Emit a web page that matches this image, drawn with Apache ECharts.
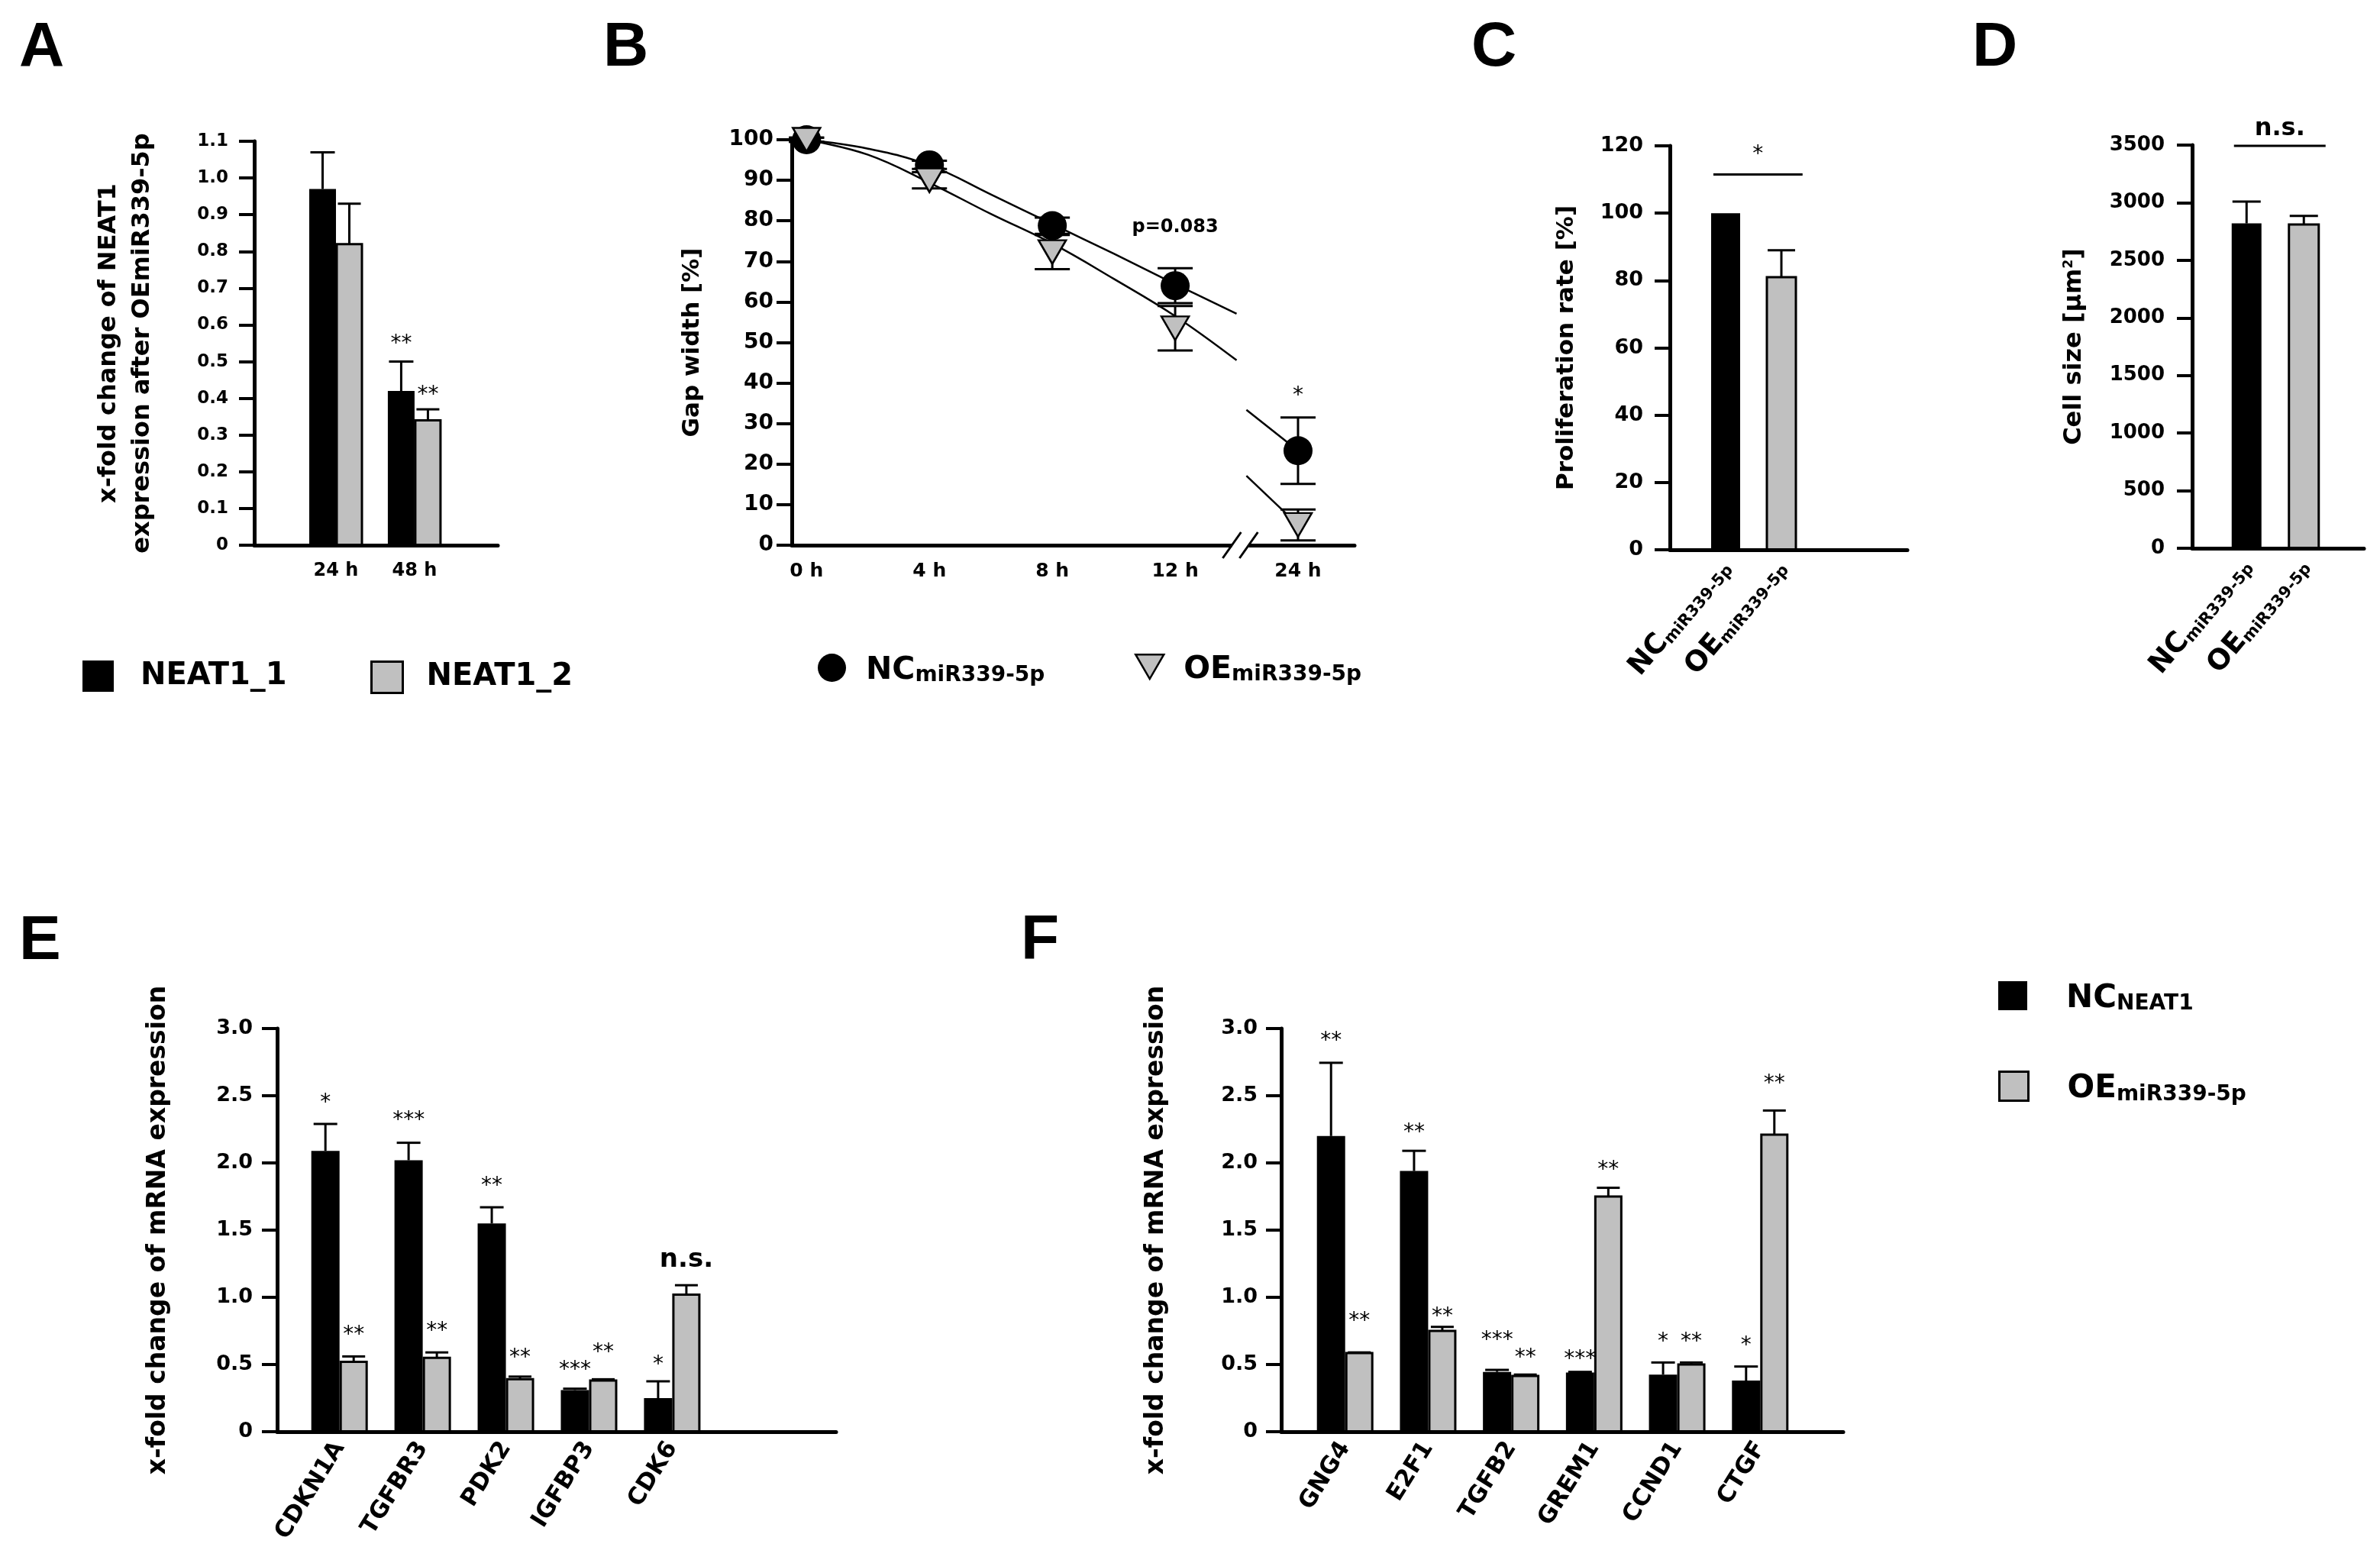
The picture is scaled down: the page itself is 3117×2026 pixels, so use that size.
<!DOCTYPE html>
<html>
<head>
<meta charset="utf-8">
<script src="https://cdn.jsdelivr.net/npm/echarts@6/dist/echarts.min.js"></script>
<style>
html, body { margin: 0; padding: 0; background: #fff; }
#main { width: 3117px; height: 2026px; }
</style>
</head>
<body>
<div id="main"></div>
<script>
var FONT = 'DejaVu Sans';
var BLACK = '#000000', GREY = '#c0c0c0';

// A: NEAT1 expression after OE
var timesA = ['24 h', '48 h'];
var neat1_1 = [0.97, 0.42];
var neat1_1Err = [0.10, 0.08];
var neat1_2 = [0.82, 0.34];
var neat1_2Err = [0.11, 0.03];
var starA1 = ['', '**'], starA1Y = [0, 0.56];
var starA2 = ['', '**'], starA2Y = [0, 0.42];

// B: gap width over time
var timesB = ['0 h', '4 h', '8 h', '12 h', '24 h'];
var gapNC = [100, 93.8, 78.8, 64.0, 23.3];
var gapNCErr = [0.5, 1, 2, 4.3, 8.2];
var gapOE = [100, 90, 72.3, 53.5, 5];
var gapOEErr = [0.5, 2, 4.2, 5.5, 3.8];
// fitted curves
var fitX = [0, 0.5, 1, 1.5, 2, 2.5, 3, 3.5];
var fitNC = [100, 97.8, 93.7, 86.5, 79.2, 71.9, 64.4, 57.1];
var fitOE = [100, 96.3, 89.4, 81.7, 74.4, 65.7, 56.5, 45.6];
var tailX = [3.58, 4];
var tailNC = [33.4, 23.3];
var tailOE = [17.1, 5];
var breakX = 3.53;
var notesB = ['p=0.083', '*'], notesBX = [3, 4], notesBY = [78.4, 38];

// C / D
var groupsCD = ['NC_miR339-5p', 'OE_miR339-5p'];
var prolif = [100, 81], prolifErr = [0, 8];
var cellSize = [2820, 2810], cellErr = [190, 75];
var sigSpan = [0.78, 2.38];
var sigC = ['*', 111.5, 118.6];
var sigD = ['n.s.', 3493, 3620];

// E
var genesE = ['CDKN1A', 'TGFBR3', 'PDK2', 'IGFBP3', 'CDK6'];
var ncE = [2.09, 2.02, 1.55, 0.31, 0.25];
var ncEErr = [0.20, 0.13, 0.12, 0.01, 0.125];
var oeE = [0.52, 0.55, 0.39, 0.38, 1.02];
var oeEErr = [0.04, 0.04, 0.02, 0.01, 0.07];
var starNcE = ['*', '***', '**', '***', '*'], starNcEY = [2.48, 2.35, 1.86, 0.49, 0.53];
var starOeE = ['**', '**', '**', '**', 'n.s.'], starOeEY = [0.75, 0.78, 0.58, 0.62, 1.26];

// F
var genesF = ['GNG4', 'E2F1', 'TGFB2', 'GREM1', 'CCND1', 'CTGF'];
var ncF = [2.20, 1.94, 0.445, 0.44, 0.425, 0.38];
var ncFErr = [0.545, 0.15, 0.015, 0.005, 0.09, 0.105];
var oeF = [0.585, 0.75, 0.415, 1.75, 0.50, 2.21];
var oeFErr = [0.005, 0.03, 0.01, 0.065, 0.015, 0.18];
var starNcF = ['**', '**', '***', '***', '*', '*'], starNcFY = [2.94, 2.26, 0.71, 0.57, 0.70, 0.67];
var starOeF = ['**', '**', '**', '**', '**', '**'], starOeFY = [0.855, 0.89, 0.58, 1.98, 0.70, 2.62];

var TRI = 'path://M0,0L10,0L5,8.6Z';

function barSeries(name, gi, vals, errs, o) {
    return {
        type: 'custom', name: name, xAxisIndex: gi, yAxisIndex: gi, z: 3,
        itemStyle: { color: o.fill || BLACK },
        data: vals.map(function (v, i) { return [i + 1, v, errs[i]]; }),
        renderItem: function (params, api) {
            var i = params.dataIndex;
            var x = api.value(0), v = api.value(1), e = api.value(2);
            var p0 = api.coord([x, 0]), p1 = api.coord([x, v]), pe = api.coord([x, v + e]);
            var cx = p0[0] + o.dx;
            var fill = o.fills ? o.fills[i] : o.fill;
            var kids = [{
                type: 'rect',
                shape: { x: cx - o.bw / 2, y: p1[1], width: o.bw, height: p0[1] - p1[1] },
                style: { fill: fill, stroke: fill === GREY ? '#000' : null, lineWidth: 3 }
            }];
            if (e > 0) {
                kids.push({ type: 'line', shape: { x1: cx, y1: p1[1], x2: cx, y2: pe[1] }, style: { stroke: '#000', lineWidth: 3 } });
                kids.push({ type: 'line', shape: { x1: cx - o.cap / 2, y1: pe[1], x2: cx + o.cap / 2, y2: pe[1] }, style: { stroke: '#000', lineWidth: 3 } });
            }
            if (o.stars && o.stars[i]) {
                var ps = api.coord([x, o.starsY[i]]);
                var isStar = o.stars[i].indexOf('*') >= 0;
                kids.push({
                    type: 'text', x: cx, y: ps[1] + (isStar ? 6 : -3),
                    style: {
                        text: o.stars[i], fontFamily: FONT, fontSize: isStar ? 28 : 34,
                        fontWeight: isStar ? 'normal' : 'bold', align: 'center', verticalAlign: 'middle', fill: '#000'
                    }
                });
            }
            return { type: 'group', children: kids };
        }
    };
}

function errSeries(gi, vals, errs) {
    return {
        type: 'custom', xAxisIndex: gi, yAxisIndex: gi, z: 3, silent: true,
        data: vals.map(function (v, i) { return [i, v, errs[i]]; }),
        renderItem: function (params, api) {
            var x = api.value(0), v = api.value(1), e = api.value(2);
            var pt = api.coord([x, v + e]), pb = api.coord([x, v - e]);
            var st = { stroke: '#000', lineWidth: 3 };
            return { type: 'group', children: [
                { type: 'line', shape: { x1: pt[0], y1: pt[1], x2: pb[0], y2: pb[1] }, style: st },
                { type: 'line', shape: { x1: pt[0] - 23, y1: pt[1], x2: pt[0] + 23, y2: pt[1] }, style: st },
                { type: 'line', shape: { x1: pb[0] - 23, y1: pb[1], x2: pb[0] + 23, y2: pb[1] }, style: st }
            ] };
        }
    };
}

function sigSeries(gi, sig) {
    return {
        type: 'custom', xAxisIndex: gi, yAxisIndex: gi, silent: true, clip: false,
        data: [[sigSpan[0], sigSpan[1], sig[1], sig[2]]],
        renderItem: function (params, api) {
            var a = api.coord([api.value(0), api.value(2)]), b = api.coord([api.value(1), api.value(2)]);
            var t = api.coord([(api.value(0) + api.value(1)) / 2, api.value(3)]);
            var isStar = sig[0].indexOf('*') >= 0;
            return { type: 'group', children: [
                { type: 'line', shape: { x1: a[0], y1: a[1], x2: b[0], y2: b[1] }, style: { stroke: '#000', lineWidth: 3 } },
                { type: 'text', x: t[0], y: t[1] + (isStar ? 6 : -3), style: { text: sig[0], fontFamily: FONT,
                    fontSize: isStar ? 28 : 32, fontWeight: isStar ? 'normal' : 'bold', align: 'center', verticalAlign: 'middle', fill: '#000' } }
            ] };
        }
    };
}

function xAx(gi, min, max, vals, fmt, lab) {
    return {
        type: 'value', gridIndex: gi, min: min, max: max, z: 5,
        splitLine: { show: false }, axisTick: { show: false },
        axisLine: { onZero: false, lineStyle: { color: '#000', width: 5 } },
        axisLabel: Object.assign({ customValues: vals, formatter: fmt, color: '#000',
            fontFamily: FONT, fontWeight: 'bold' }, lab)
    };
}

function yAx(gi, max, interval, fs, margin, name, nameGap, nameFs, extra) {
    return Object.assign({
        type: 'value', gridIndex: gi, min: 0, max: max, interval: interval,
        splitLine: { show: false },
        axisLine: { show: true, onZero: false, lineStyle: { color: '#000', width: 5 } },
        axisTick: { show: true, length: 20, lineStyle: { color: '#000', width: 4 } },
        axisLabel: { fontSize: fs, margin: margin, color: '#000', fontFamily: FONT, fontWeight: 'bold',
            formatter: function (v) { return interval < 1 ? (v === 0 ? '0' : v.toFixed(1)) : String(v); } },
        name: name, nameLocation: 'middle', nameRotate: 90, nameGap: nameGap,
        nameTextStyle: { fontSize: nameFs, fontFamily: FONT, fontWeight: 'bold', color: '#000' }
    }, extra || {});
}

function subLabel(name) {
    var p = name.split('_');
    return '{m|' + p[0] + '}{s|' + p[1] + '}';
}
function subRich(m, s, pad) {
    return {
        m: { fontSize: m, lineHeight: m, fontFamily: FONT, fontWeight: 'bold', color: '#000', verticalAlign: 'top', padding: [0, 0, pad, 0] },
        s: { fontSize: s, lineHeight: s, fontFamily: FONT, fontWeight: 'bold', color: '#000', verticalAlign: 'bottom' }
    };
}

function legendItem(left, top, name, icon, w, h, style, text) {
    return {
        left: left, top: top, orient: 'horizontal', selectedMode: false, padding: 0,
        itemWidth: w, itemHeight: h,
        data: [{ name: name, icon: icon, itemStyle: style }],
        formatter: text.formatter,
        textStyle: text.style
    };
}

var plainA = { formatter: function (n) { return n; }, style: { fontSize: 40, fontFamily: FONT, fontWeight: 'bold', color: '#000', padding: [0, 0, 0, 30] } };
var plainA2 = { formatter: function (n) { return n; }, style: { fontSize: 40, fontFamily: FONT, fontWeight: 'bold', color: '#000', padding: [0, 0, 0, 26] } };
var richB = { formatter: subLabel, style: { padding: [8, 0, 0, 21], rich: subRich(41, 28, 9) } };
var richF = { formatter: subLabel, style: { padding: [8, 0, 0, 46], rich: subRich(42, 28, 9) } };
var greyStyle = { color: GREY, borderColor: '#000', borderWidth: 3 };

var letters = [['A', 25, 22], ['B', 790, 22], ['C', 1927, 22], ['D', 2583, 22], ['E', 25, 1192], ['F', 1337, 1192]];

var chart = echarts.init(document.getElementById('main'));
var option = {
    backgroundColor: '#fff',
    animation: false,
    title: letters.map(function (l) {
        return { text: l[0], left: l[1], top: l[2], padding: 0,
            textStyle: { fontFamily: 'Liberation Sans', fontWeight: 'bold', fontSize: 82, color: '#000' } };
    }),
    legend: [
        legendItem(108, 865, 'NEAT1_1', 'rect', 41, 41, { color: BLACK }, plainA),
        legendItem(485, 865, 'NEAT1_2', 'rect', 41, 41, greyStyle, plainA2),
        legendItem(1071, 856, 'NC_miR339-5p', 'circle', 37, 37, { color: BLACK }, richB),
        legendItem(1486, 856, 'OE_miR339-5p', TRI, 37, 32, { color: GREY, borderColor: '#000', borderWidth: 2.5 }, richB),
        legendItem(2617, 1285, 'NC_NEAT1', 'rect', 38, 38, { color: BLACK }, richF),
        legendItem(2617, 1402, 'OE_miR339-5p', 'rect', 38, 38, greyStyle, richF)
    ],
    grid: [
        { left: 333, top: 185, width: 319, height: 529 },
        { left: 1037, top: 183, width: 737, height: 531 },
        { left: 2187, top: 191, width: 311, height: 529 },
        { left: 2871, top: 190, width: 225, height: 528 },
        { left: 363, top: 1347, width: 732, height: 528 },
        { left: 1678, top: 1347, width: 736, height: 528 }
    ],
    xAxis: [
        xAx(0, -0.04, 3.06, [1, 2], function (v) { return timesA[Math.round(v) - 1] || ''; }, { fontSize: 24, margin: 22 }),
        xAx(1, -0.12, 4.46, [0, 1, 2, 3, 4], function (v) { return timesB[Math.round(v)] || ''; }, { fontSize: 25, margin: 22 }),
        xAx(2, 0, 4.26, [1, 2], function (v) { var n = groupsCD[Math.round(v) - 1]; return n ? subLabel(n) : ''; },
            { rotate: 50, margin: 18, rich: subRich(37, 21, 8) }),
        xAx(3, 0.05, 3.05, [1, 2], function (v) { var n = groupsCD[Math.round(v) - 1]; return n ? subLabel(n) : ''; },
            { rotate: 50, margin: 18, rich: subRich(37, 21, 8) }),
        xAx(4, 0.25, 6.97, [1, 2, 3, 4, 5], function (v) { return genesE[Math.round(v) - 1] || ''; }, { fontSize: 31, rotate: 58, margin: 16 }),
        xAx(5, 0.23, 7.0, [1, 2, 3, 4, 5, 6], function (v) { return genesF[Math.round(v) - 1] || ''; }, { fontSize: 31, rotate: 58, margin: 16 })
    ],
    yAxis: [
        yAx(0, 1.1, 0.1, 23, 34, 'x-fold change of NEAT1\nexpression after OEmiR339-5p', 124, 32,
            { nameTextStyle: { fontSize: 32, lineHeight: 44, fontFamily: FONT, fontWeight: 'bold', color: '#000' } }),
        yAx(1, 100, 10, 28, 24, 'Gap width [%]', 115, 31),
        yAx(2, 120, 20, 27, 35, 'Proliferation rate [%]', 120, 31),
        yAx(3, 3500, 500, 26, 36, 'Cell size [µm{sup|2}]', 138, 32, {
            nameTextStyle: { fontSize: 32, fontFamily: FONT, fontWeight: 'bold', color: '#000',
                rich: { sup: { fontSize: 17, fontFamily: FONT, fontWeight: 'bold', color: '#000', verticalAlign: 'top', lineHeight: 17 } } }
        }),
        yAx(4, 3, 0.5, 27, 32, 'x-fold change of mRNA expression', 139, 33),
        yAx(5, 3, 0.5, 27, 31, 'x-fold change of mRNA expression', 147, 33)
    ],
    series: [
        // A
        barSeries('NEAT1_1', 0, neat1_1, neat1_1Err, { dx: -17.5, bw: 35, cap: 32, fill: BLACK, stars: starA1, starsY: starA1Y }),
        barSeries('NEAT1_2', 0, neat1_2, neat1_2Err, { dx: 17.5, bw: 33, cap: 30, fill: GREY, stars: starA2, starsY: starA2Y }),
        // B
        { type: 'line', xAxisIndex: 1, yAxisIndex: 1, silent: true, smooth: 0.4, showSymbol: false, z: 2,
          data: fitX.map(function (x, i) { return [x, fitNC[i]]; }), lineStyle: { color: '#000', width: 2.5 } },
        { type: 'line', xAxisIndex: 1, yAxisIndex: 1, silent: true, smooth: 0.4, showSymbol: false, z: 2,
          data: fitX.map(function (x, i) { return [x, fitOE[i]]; }), lineStyle: { color: '#000', width: 2.5 } },
        { type: 'line', xAxisIndex: 1, yAxisIndex: 1, silent: true, showSymbol: false, z: 2,
          data: tailX.map(function (x, i) { return [x, tailNC[i]]; }), lineStyle: { color: '#000', width: 2.5 } },
        { type: 'line', xAxisIndex: 1, yAxisIndex: 1, silent: true, showSymbol: false, z: 2,
          data: tailX.map(function (x, i) { return [x, tailOE[i]]; }), lineStyle: { color: '#000', width: 2.5 } },
        errSeries(1, gapNC, gapNCErr),
        errSeries(1, gapOE, gapOEErr),
        { type: 'scatter', name: 'NC_miR339-5p', xAxisIndex: 1, yAxisIndex: 1, z: 4, symbol: 'circle', symbolSize: 38,
          itemStyle: { color: BLACK, opacity: 1 }, data: gapNC.map(function (v, i) { return [i, v]; }) },
        { type: 'scatter', name: 'OE_miR339-5p', xAxisIndex: 1, yAxisIndex: 1, z: 5, symbol: TRI, symbolSize: [36, 31],
          itemStyle: { color: GREY, borderColor: '#000', borderWidth: 2.5, opacity: 1 }, data: gapOE.map(function (v, i) { return [i, v]; }) },
        { type: 'custom', xAxisIndex: 1, yAxisIndex: 1, silent: true, z: 6,
          data: notesBX.map(function (x, i) { return [x, notesBY[i]]; }),
          renderItem: function (params, api) {
              var p = api.coord([api.value(0), api.value(1)]);
              var t = notesB[params.dataIndex];
              var isStar = t === '*';
              return { type: 'text', x: p[0], y: p[1] + (isStar ? 6 : 0),
                  style: { text: t, fontFamily: FONT, fontSize: isStar ? 28 : 24, fontWeight: isStar ? 'normal' : 'bold',
                      align: 'center', verticalAlign: 'middle', fill: '#000' } };
          } },
        // C
        barSeries('C', 2, prolif, prolifErr, { dx: 0, bw: 38, cap: 36, fills: [BLACK, GREY] }),
        sigSeries(2, sigC),
        // D
        barSeries('D', 3, cellSize, cellErr, { dx: 0, bw: 39, cap: 37, fills: [BLACK, GREY] }),
        sigSeries(3, sigD),
        // E
        barSeries('NC_NEAT1', 4, ncE, ncEErr, { dx: -18.5, bw: 37, cap: 31, fill: BLACK, stars: starNcE, starsY: starNcEY }),
        barSeries('OE_miR339-5p', 4, oeE, oeEErr, { dx: 18.5, bw: 34, cap: 30, fill: GREY, stars: starOeE, starsY: starOeEY }),
        // F
        barSeries('NC_NEAT1', 5, ncF, ncFErr, { dx: -18.5, bw: 37, cap: 31, fill: BLACK, stars: starNcF, starsY: starNcFY }),
        barSeries('OE_miR339-5p', 5, oeF, oeFErr, { dx: 18.5, bw: 34, cap: 30, fill: GREY, stars: starOeF, starsY: starOeFY })
    ]
};
chart.setOption(option);

// axis break marks on panel B
var pb = chart.convertToPixel({ xAxisIndex: 1, yAxisIndex: 1 }, [breakX, 0]);
chart.setOption({
    graphic: [
        { type: 'rect', z: 100, shape: { x: pb[0] - 11, y: pb[1] - 5, width: 22, height: 10 }, style: { fill: '#fff' } },
        { type: 'line', z: 101, shape: { x1: pb[0] - 23, y1: pb[1] + 17, x2: pb[0] + 1, y2: pb[1] - 17 }, style: { stroke: '#000', lineWidth: 3 } },
        { type: 'line', z: 101, shape: { x1: pb[0] - 1, y1: pb[1] + 17, x2: pb[0] + 23, y2: pb[1] - 17 }, style: { stroke: '#000', lineWidth: 3 } }
    ]
});

window.addEventListener('resize', function () { chart.resize(); });
</script>
</body>
</html>
